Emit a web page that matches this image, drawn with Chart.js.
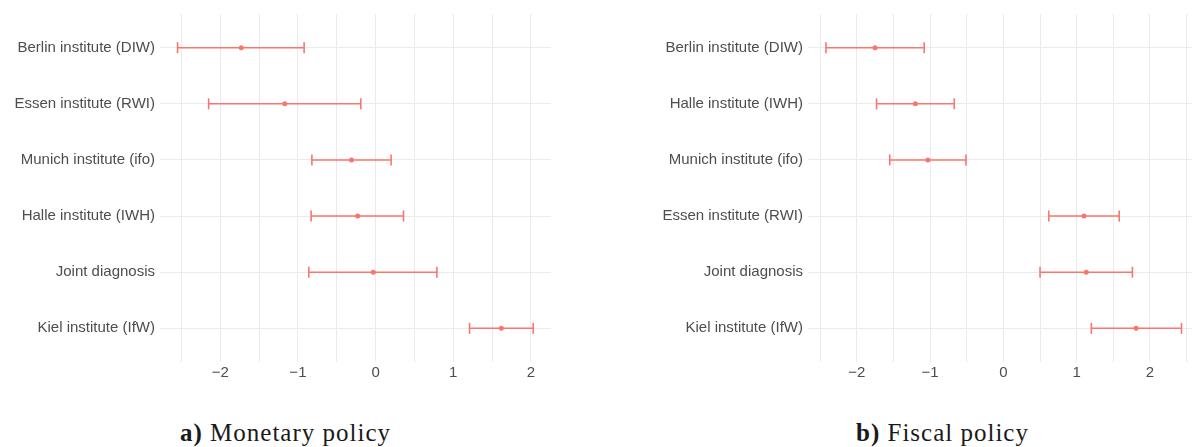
<!DOCTYPE html>
<html>
<head>
<meta charset="utf-8">
<script src="https://cdn.jsdelivr.net/npm/chart.js@4.4.1/dist/chart.umd.min.js"></script>
<style>
  html, body { margin: 0; padding: 0; background: #ffffff; width: 1192px; height: 447px; overflow: hidden; position: relative; }
  canvas { position: absolute; top: 0; }
  .cap { position: absolute; top: 420px; line-height: 25px; font-family: "Liberation Serif", "DejaVu Serif", serif; font-size: 25px; letter-spacing: 1px; color: #1a1a1a; white-space: nowrap; }
  .cap b { font-weight: bold; }
</style>
</head>
<body>
<canvas id="c1" width="551" height="400" style="left:0px;width:551px;height:400px"></canvas>
<canvas id="c2" width="592" height="400" style="left:600px;width:592px;height:400px"></canvas>
<div class="cap" style="left:180px;"><b>a)</b> Monetary policy</div>
<div class="cap" style="left:856px;"><b>b)</b> Fiscal policy</div>
<script>
// ---- Data ----
const monetaryLabels = ["Berlin institute (DIW)", "Essen institute (RWI)", "Munich institute (ifo)", "Halle institute (IWH)", "Joint diagnosis", "Kiel institute (IfW)"];
const monetaryEstimate = [-1.73, -1.17, -0.31, -0.23, -0.03, 1.62];
const monetaryLower = [-2.55, -2.15, -0.82, -0.83, -0.86, 1.21];
const monetaryUpper = [-0.92, -0.19, 0.20, 0.36, 0.79, 2.03];

const fiscalLabels = ["Berlin institute (DIW)", "Halle institute (IWH)", "Munich institute (ifo)", "Essen institute (RWI)", "Joint diagnosis", "Kiel institute (IfW)"];
const fiscalEstimate = [-1.75, -1.20, -1.03, 1.10, 1.13, 1.81];
const fiscalLower = [-2.42, -1.73, -1.55, 0.62, 0.50, 1.20];
const fiscalUpper = [-1.08, -0.67, -0.51, 1.58, 1.76, 2.43];

const xTickValues = [-2.5, -2, -1.5, -1, -0.5, 0, 0.5, 1, 1.5, 2, 2.5];

const COLOR = "#F8766D";
const GRID = "#ebebeb";
const TEXT = "#4d4d4d";

function makeChart(id, labels, est, lo, hi, xmin, xmax, yAxisWidth) {
  const datasets = [];
  labels.forEach((lab, i) => {
    datasets.push({
      type: "line",
      data: [{x: lo[i], y: i}, {x: hi[i], y: i}],
      borderColor: COLOR,
      borderWidth: 1.6,
      pointStyle: "line",
      rotation: 90,
      pointRadius: 5.5,
      pointBorderColor: COLOR,
      pointBorderWidth: 1.6,
      pointHoverRadius: 5.5,
      fill: false,
      showLine: true,
      tension: 0
    });
  });
  datasets.push({
    type: "scatter",
    data: est.map((v, i) => ({x: v, y: i})),
    backgroundColor: COLOR,
    borderColor: COLOR,
    pointRadius: 2.5,
    pointBorderWidth: 0,
    pointStyle: "circle"
  });

  return new Chart(document.getElementById(id), {
    type: "scatter",
    data: { datasets },
    options: {
      responsive: false,
      animation: false,
      devicePixelRatio: 1,
      layout: { autoPadding: false, padding: { top: 14, right: 0, bottom: 0, left: 0 } },
      plugins: { legend: { display: false }, tooltip: { enabled: false } },
      scales: {
        x: {
          type: "linear",
          min: xmin,
          max: xmax,
          afterBuildTicks: s => { s.ticks = xTickValues.filter(v => v >= xmin && v <= xmax).map(v => ({value: v})); },
          afterFit: s => { s.height = 38; },
          border: { display: false },
          grid: { color: GRID, lineWidth: 1, drawTicks: false },
          ticks: {
            padding: 2,
            color: TEXT,
            font: { family: "Liberation Sans, Arial, sans-serif", size: 15 },
            maxRotation: 0,
            autoSkip: false,
            callback: v => Number.isInteger(v) ? (v < 0 ? "\u2212" + Math.abs(v) : String(v)) : ""
          }
        },
        y: {
          type: "linear",
          reverse: true,
          min: -0.6,
          max: labels.length - 1 + 0.6,
          afterBuildTicks: s => { s.ticks = labels.map((_, i) => ({value: i})); },
          afterFit: s => { s.width = yAxisWidth; },
          border: { display: false },
          grid: { color: GRID, lineWidth: 1, drawTicks: false },
          ticks: {
            padding: 5,
            color: TEXT,
            font: { family: "Liberation Sans, Arial, sans-serif", size: 15 },
            autoSkip: false,
            callback: v => labels[v]
          }
        }
      }
    }
  });
}

makeChart("c1", monetaryLabels, monetaryEstimate, monetaryLower, monetaryUpper, -2.776, 2.259, 160);
makeChart("c2", fiscalLabels, fiscalEstimate, fiscalLower, fiscalUpper, -2.665, 2.573, 208);
</script>
</body>
</html>
